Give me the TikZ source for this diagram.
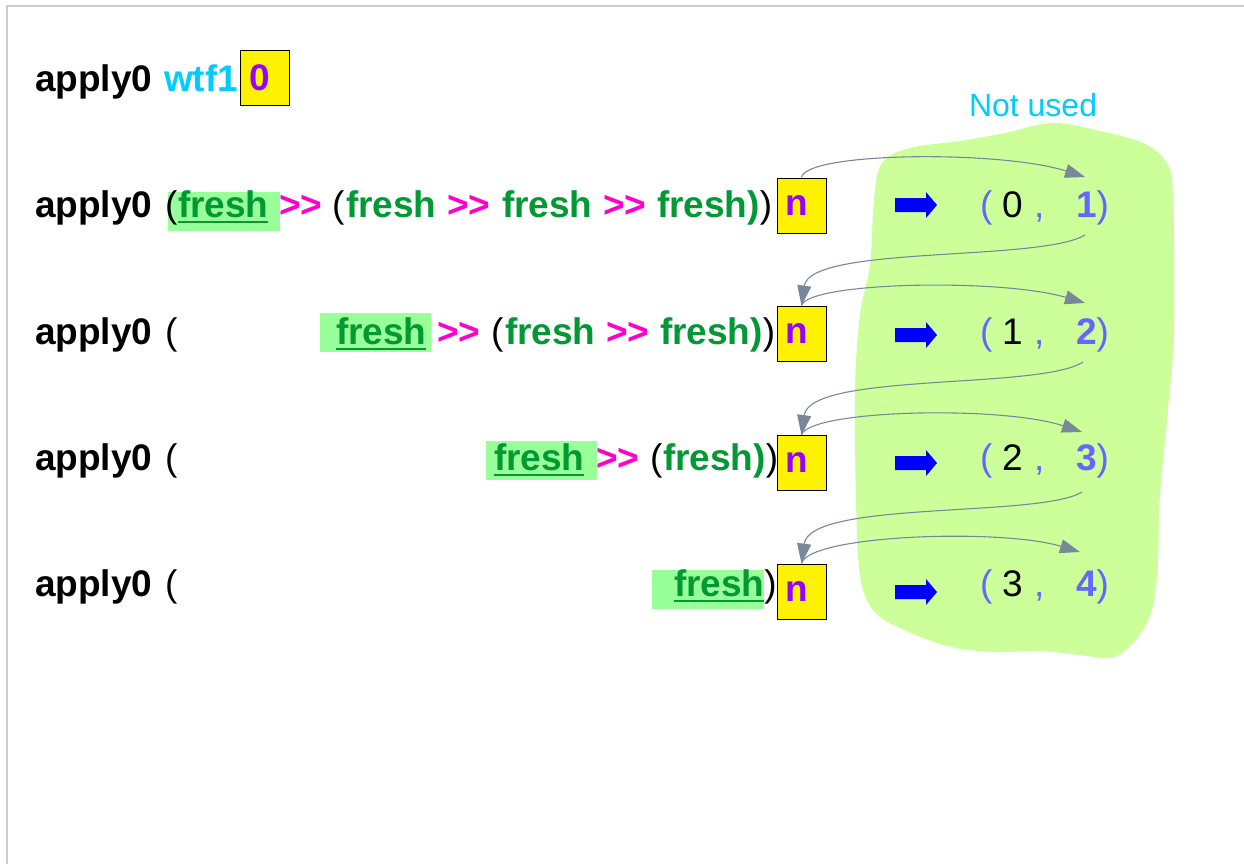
\documentclass[tikz,border=0pt]{standalone}
\usepackage{fontspec}
\setmainfont{Liberation Sans}
\usetikzlibrary{arrows.meta}
\definecolor{cgreen}{RGB}{0,153,51}
\definecolor{cmag}{RGB}{255,0,204}
\definecolor{chl}{RGB}{153,255,153}
\definecolor{cpurple}{RGB}{153,0,255}
\definecolor{ccyan}{RGB}{0,204,255}
\definecolor{ctuple}{RGB}{102,102,255}
\definecolor{cblob}{RGB}{204,255,153}
\definecolor{cconn}{RGB}{119,136,153}
\definecolor{cframe}{RGB}{204,204,204}
\newcommand\bigfs{\fontsize{37}{41}\selectfont}
\newcommand\smallfs{\fontsize{32}{36}\selectfont}
\newcommand\gtgt{>\kern0pt>}
\begin{document}
\begin{tikzpicture}[x=1pt,y=-1pt,
  txt/.style={inner sep=0pt, outer sep=0pt, anchor=base west, font=\bigfs},
  bk/.style={txt, font=\bigfs\bfseries, text=black},
  pk/.style={txt, text=black},
  gr/.style={txt, font=\bigfs\bfseries, text=cgreen},
  mg/.style={txt, font=\bigfs\bfseries, text=cmag},
  cy/.style={txt, font=\bigfs\bfseries, text=ccyan},
  ybox/.style={draw=black, line width=0.9pt, fill=yellow, minimum width=49pt, minimum height=55pt, inner sep=0pt, font=\bigfs\bfseries, text=cpurple},
  tp/.style={txt, text=ctuple},
  tpb/.style={txt, font=\bigfs\bfseries, text=ctuple},
  conn/.style={draw=cconn, line width=1.1pt, -{Triangle[length=20pt,width=14pt]}},
  uline/.style={draw=cgreen, line width=2pt},
]
\useasboundingbox (0,0) rectangle (1244,864);
% frame
\draw[cframe, line width=1.5pt] (7,864) -- (7,6) -- (1244,6);
% blob
\fill[cblob] plot[smooth cycle, tension=0.6] coordinates {
 (1053,123) (1100,131) (1143,143) (1166,162) (1173,195) (1174,330) (1168,410)
 (1160,495) (1157,577) (1147,623) (1117,656) (1080,655) (1040,651) (993,652)
 (947,646) (900,628) (873,610) (860,575) (856,500) (855,390) (860,315)
 (870,265) (874,200) (882,163) (910,148) (960,141) (1005,133)};
\node[txt, font=\smallfs, text=ccyan] (nu) at (969,117) {Not used};

% highlights
\fill[chl] (168,192) rectangle (280,231);
\fill[chl] (320,313) rectangle (431,352);
\fill[chl] (486,441) rectangle (597,480);
\fill[chl] (652,570) rectangle (764,609);

% row 0
\node[bk] (a0) at (35,92) {apply0};
\node[cy] (w0) at (164,92) {wtf1};
\node[ybox] (b0) at (264.5,77.5) {0\hspace*{9pt}};

% row 1
\node[bk] (a1) at (35,217) {apply0};
\node[pk] (p1) at (165,217) {(};
\node[gr] (f1a) at (178,217) {fresh};
\draw[uline] ([yshift=-4.5pt]f1a.base west) -- ([yshift=-4.5pt]f1a.base east);
\node[mg] (m1a) at (279,217) {\gtgt};
\node[pk] (p1b) at (332,217) {(};
\node[gr] (f1b) at (346,217) {fresh};
\node[mg] (m1b) at (447,217) {\gtgt};
\node[gr] (f1c) at (502,217) {fresh};
\node[mg] (m1c) at (603,217) {\gtgt};
\node[gr] (f1d) at (657,217) {fresh)};
\node[pk] (q1) at (f1d.base east) {)};
\node[ybox] (b1) at (801.5,205.5) {n\hspace*{9.5pt}};

% row 2
\node[bk] (a2) at (35,344) {apply0};
\node[pk] (p2) at (165,344) {(};
\node[gr] (f2a) at (336,344) {fresh};
\draw[uline] ([yshift=-4.5pt]f2a.base west) -- ([yshift=-4.5pt]f2a.base east);
\node[mg] (m2a) at (437,344) {\gtgt};
\node[pk] (p2b) at (491,344) {(};
\node[gr] (f2b) at (505,344) {fresh};
\node[mg] (m2b) at (606,344) {\gtgt};
\node[gr] (f2c) at (660,344) {fresh)};
\node[pk] (q2) at (f2c.base east) {)};
\node[ybox] (b2) at (801.5,333.5) {n\hspace*{9.5pt}};

% row 3
\node[bk] (a3) at (35,470) {apply0};
\node[pk] (p3) at (165,470) {(};
\node[gr] (f3a) at (494,470) {fresh};
\draw[uline] ([yshift=-4.5pt]f3a.base west) -- ([yshift=-4.5pt]f3a.base east);
\node[mg] (m3a) at (596,470) {\gtgt};
\node[pk] (p3b) at (650,470) {(};
\node[gr] (f3b) at (663,470) {fresh)};
\node[pk] (q3) at (f3b.base east) {)};
\node[ybox] (b3) at (801.5,463) {n\hspace*{9.5pt}};

% row 4
\node[bk] (a4) at (35,596) {apply0};
\node[pk] (p4) at (165,596) {(};
\node[gr] (f4a) at (674,596) {fresh};
\draw[uline] ([yshift=-4.5pt]f4a.base west) -- ([yshift=-4.5pt]f4a.base east);
\node[pk] (q4) at (f4a.base east) {)};
\node[ybox] (b4) at (801.5,591.5) {n\hspace*{9.5pt}};

% blue arrows
\foreach \cy in {205,335,463,592}{
  \fill[blue] (895,\cy-7) -- (926,\cy-7) -- (926,\cy-13) -- (937,\cy) -- (926,\cy+13) -- (926,\cy+7) -- (895,\cy+7) -- cycle;
}

% tuples
\node[tp] (l1) at (980,217) {(};
\node[pk] (x1) at (1002,217) {0};
\node[tp] (c1) at (1034,217) {,};
\node[tpb] (y1) at (1076,217) {1};
\node[tp] (r1) at (y1.base east) {)};

\node[tp] (l2) at (980,344) {(};
\node[pk] (x2) at (1002,344) {1};
\node[tp] (c2) at (1034,344) {,};
\node[tpb] (y2) at (1076,344) {2};
\node[tp] (r2) at (y2.base east) {)};

\node[tp] (l3) at (980,470) {(};
\node[pk] (x3) at (1002,470) {2};
\node[tp] (c3) at (1034,470) {,};
\node[tpb] (y3) at (1076,470) {3};
\node[tp] (r3) at (y3.base east) {)};

\node[tp] (l4) at (980,596) {(};
\node[pk] (x4) at (1002,596) {3};
\node[tp] (c4) at (1034,596) {,};
\node[tpb] (y4) at (1076,596) {4};
\node[tp] (r4) at (y4.base east) {)};

% connectors
\coordinate (t1) at (1085,177);
\coordinate (t2) at (1085,303);
\coordinate (t3) at (1082,432);
\coordinate (t4) at (1080,552);
\coordinate (s1) at (1085,235);
\coordinate (s2) at (1083,362);
\coordinate (s3) at (1082,492);
\draw[conn] (b1.north) .. controls (805,152) and (1000,150) .. (t1);
\draw[conn] (s1) .. controls (1040,262) and (810,245) .. (b2.north);
\draw[conn] (b2.north) .. controls (808,282) and (1000,278) .. (t2);
\draw[conn] (s2) .. controls (1040,390) and (810,372) .. (b3.north);
\draw[conn] (b3.north) .. controls (808,410) and (1000,405) .. (t3);
\draw[conn] (s3) .. controls (1040,518) and (810,500) .. (b4.north);
\draw[conn] (b4.north) .. controls (808,535) and (1000,528) .. (t4);
\end{tikzpicture}
\end{document}
